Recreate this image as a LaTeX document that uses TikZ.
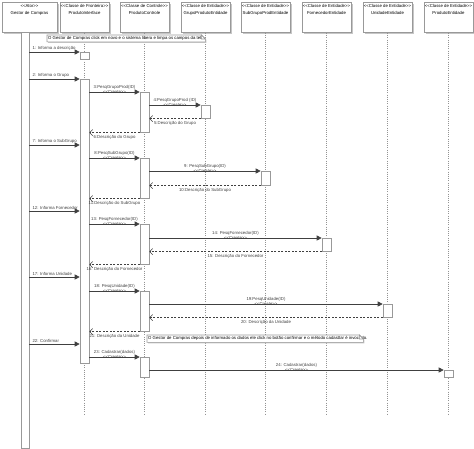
\documentclass[tikz,border=0pt]{standalone}
\usepackage{fontspec}
\setmainfont{Liberation Sans}
\usetikzlibrary{positioning, arrows.meta, shadows}
\newcommand{\stereo}[1]{<\kern0pt<#1>\kern0pt>}

\begin{document}
\begin{tikzpicture}[
    x=1pt, y=-1pt,
    font=\fontsize{4.3}{5}\selectfont,
    head/.style={draw=gray!80, line width=0.9pt, fill=white, minimum width=49pt, minimum height=30pt, anchor=north, inner sep=0pt,
        general shadow={fill=gray!45, shadow xshift=1.5pt, shadow yshift=-1.5pt}},
    headtxt/.style={align=center, inner sep=0pt, font=\fontsize{4.3}{7}\selectfont},
    bar/.style={draw=gray!80, fill=white, minimum width=9pt, anchor=north, inner sep=0pt, line width=0.6pt},
    life/.style={gray!85, dash pattern=on 1pt off 1.2pt, line width=0.6pt},
    call/.style={-{Triangle[length=5pt, width=5pt]}, black!75, line width=0.6pt},
    ret/.style={-{Straight Barb[length=3pt, width=6pt]}, black!75, line width=0.5pt, dash pattern=on 2pt off 1.5pt},
    amsg/.style={anchor=south west, inner sep=0pt, xshift=3pt, yshift=1pt},
    msg/.style={inner sep=0pt, above=2.5pt},
    rmsg/.style={inner sep=0pt, below=2.5pt},
    create/.style={inner sep=0pt},
    notefr/.style={minimum height=6.5pt, anchor=north west, inner sep=0pt},
    noteline/.style={draw=gray!80, line width=0.6pt, fill=white},
    notetxt/.style={anchor=west, inner sep=0pt},
]
\useasboundingbox (0,0) rectangle (474,448);

% Participants
\node[head, minimum width=55pt] (h1) at (29.5,2) {};
\node[head] (h2) at (84.5,2) {};
\node[head] (h3) at (144.5,2) {};
\node[head] (h4) at (205.5,2) {};
\node[head] (h5) at (265.5,2) {};
\node[head] (h6) at (326.5,2) {};
\node[head] (h7) at (387.5,2) {};
\node[head] (h8) at (448.5,2) {};
\node[headtxt, below=2.5pt of h1.north] (n1) {\stereo{Ator}\\Gestor de Compras};
\node[headtxt, below=2.5pt of h2.north] (n2) {\stereo{Classe de Fronteira}\\ProdutoInterface};
\node[headtxt, below=2.5pt of h3.north] (n3) {\stereo{Classe de Controle}\\ProdutoControle};
\node[headtxt, below=2.5pt of h4.north] (n4) {\stereo{Classe de Entidade}\\GrupoProdutoEntidade};
\node[headtxt, below=2.5pt of h5.north] (n5) {\stereo{Classe de Entidade}\\SubGrupoProdEntidade};
\node[headtxt, below=2.5pt of h6.north] (n6) {\stereo{Classe de Entidade}\\FornecedorEntidade};
\node[headtxt, below=2.5pt of h7.north] (n7) {\stereo{Classe de Entidade}\\UnidadeEntidade};
\node[headtxt, below=2.5pt of h8.north] (n8) {\stereo{Classe de Entidade}\\ProdutoEntidade};

% Lifelines
\coordinate (e2) at (84.5,415);
\coordinate (e3) at (144.5,415);
\coordinate (e4) at (205.5,415);
\coordinate (e5) at (265.5,415);
\coordinate (e6) at (326.5,415);
\coordinate (e7) at (387.5,415);
\coordinate (e8) at (448.5,415);
\draw[life] (h2.south) -- (e2);
\draw[life] (h3.south) -- (e3);
\draw[life] (h4.south) -- (e4);
\draw[life] (h5.south) -- (e5);
\draw[life] (h6.south) -- (e6);
\draw[life] (h7.south) -- (e7);
\draw[life] (h8.south) -- (e8);

% Activations
\node[bar, minimum width=8pt, minimum height=416pt] (ab) at (25,32) {};
\node[bar, minimum height=7pt] (a1) at (84.5,52) {};
\node[bar, minimum height=284pt] (b2) at (84.5,79) {};
\node[bar, minimum height=40pt] (c1) at (144.5,92) {};
\node[bar, minimum height=13pt] (g1) at (205.5,105) {};
\node[bar, minimum height=40pt] (c2) at (144.5,158) {};
\node[bar, minimum height=14pt] (s1) at (265.5,171) {};
\node[bar, minimum height=40pt] (c3) at (144.5,224) {};
\node[bar, minimum height=13pt] (f1) at (326.5,238) {};
\node[bar, minimum height=40pt] (c4) at (144.5,291) {};
\node[bar, minimum height=13pt] (u1) at (387.5,304) {};
\node[bar, minimum height=20pt] (c5) at (144.5,357) {};
\node[bar, minimum height=7pt] (p1) at (448.5,370) {};

% Note 0
\node[notefr, minimum width=158pt] (k0) at (47,35) {};
\draw[noteline, general shadow={fill=gray!45, shadow xshift=1pt, shadow yshift=-1pt}] (k0.south west) -- (k0.north west) -- ([xshift=-4pt]k0.north east) -- ([yshift=-4pt]k0.north east) -- (k0.south east) -- cycle;
\node[notetxt] (k0t) at ([xshift=1pt]k0.west) {O Gestor de Compras click em novo e o sistema libera e limpa os campos da tela};
\draw[noteline] ([xshift=-4pt]k0.north east) -- ([xshift=-4pt, yshift=-4pt]k0.north east) -- ([yshift=-4pt]k0.north east) -- cycle;

% Descricao
\draw[call] (ab.east |- a1.north) -- (a1.north west) node[at start, amsg] (t1) {1: Informa a descrição};

% Grupo
\draw[call] (ab.east |- b2.north) -- (b2.north west) node[at start, amsg] (t2) {2: Informa o Grupo};
\draw[call] (b2.east |- c1.north) -- (c1.north west) node[midway, msg] (t3) {3:PesqGrupoProd(ID)} node[midway, create] (r3) {\stereo{Create}};
\draw[call] (c1.east |- g1.north) -- (g1.north west) node[midway, msg] (t4) {4:PesqGrupoProd (ID)} node[midway, create] (r4) {\stereo{Create}};
\draw[ret] (g1.south west) -- (g1.south west -| c1.east) node[midway, rmsg] (t5) {5:Descrição do Grupo};
\draw[ret] (c1.south west) -- (c1.south west -| b2.east) node[midway, rmsg] (t6) {6:Descrição do Grupo};

% SubGrupo
\coordinate (m7) at (0,145);
\draw[call] (ab.east |- m7) -- (b2.west |- m7) node[at start, amsg] (t7) {7: Informa o SubGrupo};
\draw[call] (b2.east |- c2.north) -- (c2.north west) node[midway, msg] (t8) {8:PesqSubGrupo(ID)} node[midway, create] (r8) {\stereo{Create}};
\draw[call] (c2.east |- s1.north) -- (s1.north west) node[midway, msg] (t9) {9: PesqSubGrupo(ID)} node[midway, create] (r9) {\stereo{Create}};
\draw[ret] (s1.south west) -- (s1.south west -| c2.east) node[midway, rmsg] (t10) {10:Descrição do SubGrupo};
\draw[ret] (c2.south west) -- (c2.south west -| b2.east) node[midway, rmsg] (t11) {11:Descrição do SubGrupo};

% Fornecedor
\coordinate (m12) at (0,211);
\draw[call] (ab.east |- m12) -- (b2.west |- m12) node[at start, amsg] (t12) {12: Informa Fornecedor};
\draw[call] (b2.east |- c3.north) -- (c3.north west) node[midway, msg] (t13) {13: PesqFornecedor(ID)} node[midway, create] (r13) {\stereo{Create}};
\draw[call] (c3.east |- f1.north) -- (f1.north west) node[midway, msg] (t14) {14: PesqFornecedor(ID)} node[midway, create] (r14) {\stereo{Create}};
\draw[ret] (f1.south west) -- (f1.south west -| c3.east) node[midway, rmsg] (t15) {15: Descrição do Fornecedor};
\draw[ret] (c3.south west) -- (c3.south west -| b2.east) node[midway, rmsg] (t16) {16: Descrição do Fornecedor};

% Unidade
\coordinate (m17) at (0,277);
\draw[call] (ab.east |- m17) -- (b2.west |- m17) node[at start, amsg] (t17) {17: Informa Unidade};
\draw[call] (b2.east |- c4.north) -- (c4.north west) node[midway, msg] (t18) {18: PesqUnidade(ID)} node[midway, create] (r18) {\stereo{Create}};
\draw[call] (c4.east |- u1.north) -- (u1.north west) node[midway, msg] (t19) {19:PesqUnidade(ID)} node[midway, create] (r19) {\stereo{Create}};
\draw[ret] (u1.south west) -- (u1.south west -| c4.east) node[midway, rmsg] (t20) {20: Descrição da Unidade};
\draw[ret] (c4.south west) -- (c4.south west -| b2.east) node[midway, rmsg] (t21) {21: Descrição da Unidade};

% Note 1
\node[notefr, minimum width=216pt, minimum height=7pt] (k1) at (147,335) {};
\draw[noteline, general shadow={fill=gray!45, shadow xshift=1pt, shadow yshift=-1pt}] (k1.south west) -- (k1.north west) -- ([xshift=-4pt]k1.north east) -- ([yshift=-4pt]k1.north east) -- (k1.south east) -- cycle;
\node[notetxt] (k1t) at ([xshift=1pt]k1.west) {O Gestor de Compras depois de informado os dados ele click no botão confirmar e o método cadasttar é invocado.};
\draw[noteline] ([xshift=-4pt]k1.north east) -- ([xshift=-4pt, yshift=-4pt]k1.north east) -- ([yshift=-4pt]k1.north east) -- cycle;

% Cadastrar
\coordinate (m22) at (0,344);
\draw[call] (ab.east |- m22) -- (b2.west |- m22) node[at start, amsg] (t22) {22: Confirmar};
\draw[call] (b2.east |- c5.north) -- (c5.north west) node[midway, msg] (t23) {23: Cadastrar(dados)} node[midway, create] (r23) {\stereo{Create}};
\draw[call] (c5.east |- p1.north) -- (p1.north west) node[midway, msg] (t24) {24: Cadastrar(dados)} node[midway, create] (r24) {\stereo{Create}};
\end{tikzpicture}
\end{document}
